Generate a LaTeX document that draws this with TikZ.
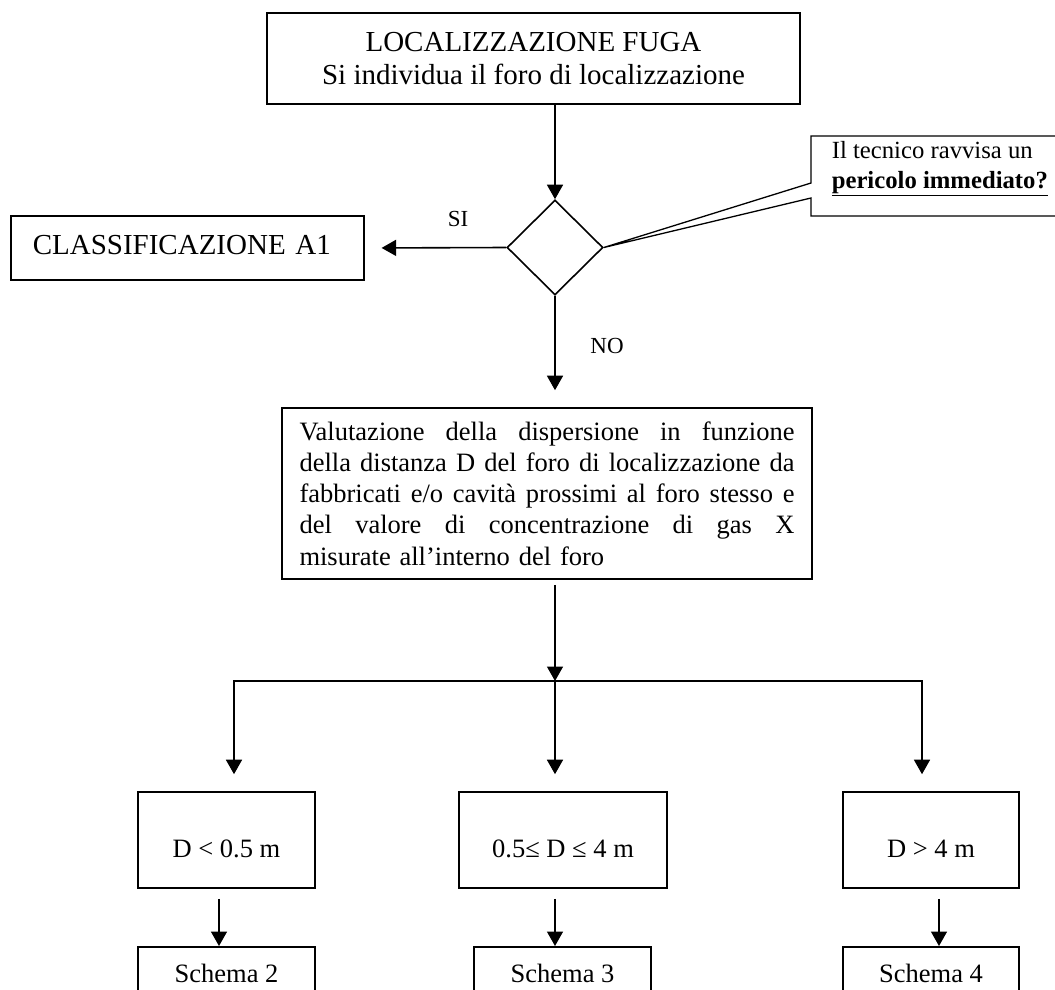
\documentclass[tikz,border=0pt]{standalone}
\usepackage{fontspec}
\setmainfont{Liberation Serif}
\usetikzlibrary{shapes.geometric,arrows.meta}
\newcommand{\fullline}[1]{\leavevmode\hbox to 495pt{#1}}
\begin{document}
\begin{tikzpicture}[x=1pt,y=-1pt,
  line width=1.6pt,
  box/.style={draw,rectangle,inner sep=0pt},
  arr/.style={-{Triangle[length=14.5pt,width=16pt]}},
  big/.style={font=\fontsize{29}{33}\selectfont},
  txt/.style={font=\fontsize{26.5}{31.25}\selectfont},
  small/.style={font=\fontsize{24.7}{30}\selectfont},
  lbl/.style={font=\fontsize{23}{27}\selectfont,inner sep=0pt},
]
\fill[white] (0,0) rectangle (1055,990);
\useasboundingbox (0,0) rectangle (1055,990);

% start of the procedure
\node[box,big,align=center,minimum width=533pt,minimum height=91pt] (top) at (533.5,58.5)
  {LOCALIZZAZIONE FUGA\\Si individua il foro di localizzazione};

% decision
\node[draw,diamond,inner sep=0pt,minimum width=96pt,minimum height=95pt] (dia) at (555,247.5) {};
\draw[arr] (dia.north |- top.south) -- (dia.north);

% callout with the question
\node[small,align=left,anchor=north west,inner sep=0pt] (note) at (831,141)
  {Il tecnico ravvisa un\\\underline{\textbf{pericolo immediato?}}};
\draw[line width=1.3pt] (1055,136) -- (811,136) -- (811,183) -- (dia.east) -- (811,198) -- (811,216) -- (1055,216);

% SI branch
\node[box,big,anchor=west,minimum height=64pt,text width=309pt,inner xsep=22pt,align=left,
      text height=12pt,text depth=0pt] (cls) at (10,248) {CLASSIFICAZIONE A1};
\draw[arr,shorten >=17pt] (dia.west) -- (cls.east);
\node[lbl] (si) at (458,219) {SI};

% NO branch
\node[box,txt,minimum width=530pt,minimum height=171pt,text width=495pt,align=left] (val) at (547,493.5)
  {\fullline{Valutazione\hfill della\hfill dispersione\hfill in\hfill funzione}\\
   \fullline{della\hfill distanza\hfill D\hfill del\hfill foro\hfill di\hfill localizzazione\hfill da}\\
   \fullline{fabbricati\hfill e/o\hfill cavità\hfill prossimi\hfill al\hfill foro\hfill stesso\hfill e}\\
   \fullline{del\hfill valore\hfill di\hfill concentrazione\hfill di\hfill gas\hfill X}\\
   misurate all’interno del foro};
\draw[arr,shorten >=17pt] (dia.south) -- (dia.south |- val.north);
\node[lbl] (no) at (607,346) {NO};

% distance classes
\node[box,txt,minimum width=177pt,minimum height=96pt,text height=34pt,text depth=0pt] (b1) at (226.5,840) {D < 0.5 m};
\node[box,txt,minimum width=208pt,minimum height=96pt,text height=34pt,text depth=0pt] (b2) at (563,840) {0.5≤ D ≤ 4 m};
\node[box,txt,minimum width=176pt,minimum height=96pt,text height=34pt,text depth=0pt] (b3) at (931,840) {D > 4 m};

\coordinate (j) at (555,681);
\coordinate (jl) at (234,681);
\coordinate (jr) at (922,681);
\draw[arr,shorten <=5pt] (val.south -| j) -- (j);
\draw[arr,shorten >=17pt] (j) -| (jl |- b1.north);
\draw[arr,shorten >=17pt] (j) -| (jr |- b3.north);
\draw[arr,shorten >=17pt] (j) -- (j |- b2.north);

% schemes
\node[box,txt,anchor=north,minimum width=177pt,minimum height=54pt,text height=18pt,text depth=0pt] (s1) at (226.5,946) {Schema 2};
\node[box,txt,anchor=north,minimum width=177pt,minimum height=54pt,text height=18pt,text depth=0pt] (s2) at (562.5,946) {Schema 3};
\node[box,txt,anchor=north,minimum width=176pt,minimum height=54pt,text height=18pt,text depth=0pt] (s3) at (931,946) {Schema 4};

\draw[arr,shorten <=10pt] ([xshift=-7.5pt]b1.south) -- ([xshift=-7.5pt]s1.north);
\draw[arr,shorten <=10pt] ([xshift=-8pt]b2.south) -- ([xshift=-7.5pt]s2.north);
\draw[arr,shorten <=10pt] ([xshift=8pt]b3.south) -- ([xshift=8pt]s3.north);
\end{tikzpicture}
\end{document}
